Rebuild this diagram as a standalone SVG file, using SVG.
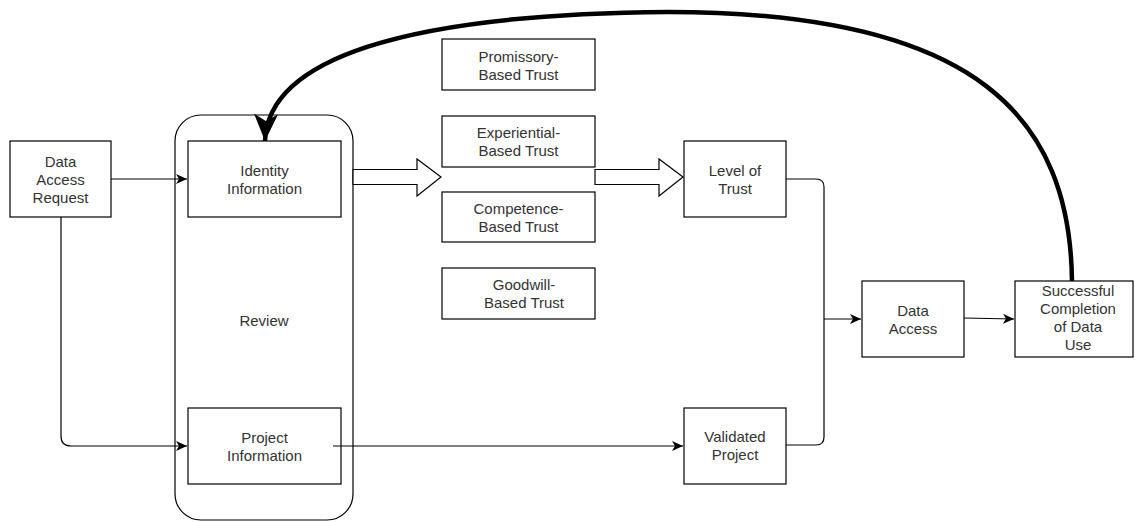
<svg xmlns="http://www.w3.org/2000/svg" width="1135" height="522" viewBox="0 0 1135 522">
<style>
.box{fill:#fff;stroke:#000;stroke-width:1.2}
.t{font-family:"Liberation Sans",Arial,sans-serif;font-size:15px;fill:#333;text-anchor:middle}
.c{fill:none;stroke:#000;stroke-width:1.2}
.hollow{fill:#fff;stroke:#000;stroke-width:1.2;stroke-linejoin:miter}
</style>
<defs>
<marker id="arr" markerUnits="userSpaceOnUse" markerWidth="12" markerHeight="10" refX="11" refY="5" orient="auto">
<path d="M0,0 L11,5 L0,10 L3,5 z" fill="#000"/>
</marker>
<marker id="big" markerUnits="userSpaceOnUse" markerWidth="30" markerHeight="26" refX="27" refY="12" orient="auto">
<path d="M0,0 L27,12 L0,24 L7,12 z" fill="#000"/>
</marker>
</defs>
<g id="review">
<rect class="box" x="175" y="115" width="178" height="405" rx="26" ry="26"/>
<text class="t" x="264" y="326">Review</text>
</g>
<g id="data-access-request">
<rect class="box" x="10" y="141" width="101" height="76"/>
<text class="t" x="60.5" y="167">Data</text>
<text class="t" x="60.5" y="185">Access</text>
<text class="t" x="60.5" y="203">Request</text>
</g>
<g id="identity-information">
<rect class="box" x="188" y="141" width="153" height="76"/>
<text class="t" x="264.5" y="176">Identity</text>
<text class="t" x="264.5" y="194">Information</text>
</g>
<g id="project-information">
<rect class="box" x="188" y="408" width="153" height="76"/>
<text class="t" x="264.5" y="443">Project</text>
<text class="t" x="264.5" y="461">Information</text>
</g>
<g id="promissory">
<rect class="box" x="442" y="39" width="153" height="51"/>
<text class="t" x="518.5" y="62">Promissory-</text>
<text class="t" x="518.5" y="80">Based Trust</text>
</g>
<g id="experiential">
<rect class="box" x="442" y="116" width="153" height="51"/>
<text class="t" x="518.5" y="138">Experiential-</text>
<text class="t" x="518.5" y="156">Based Trust</text>
</g>
<g id="competence">
<rect class="box" x="442" y="192" width="153" height="50"/>
<text class="t" x="518.5" y="214">Competence-</text>
<text class="t" x="518.5" y="232">Based Trust</text>
</g>
<g id="goodwill">
<rect class="box" x="442" y="268" width="153" height="51"/>
<text class="t" x="524" y="290">Goodwill-</text>
<text class="t" x="524" y="308">Based Trust</text>
</g>
<g id="level-of-trust">
<rect class="box" x="684" y="141" width="102" height="76"/>
<text class="t" x="735" y="176">Level of</text>
<text class="t" x="735" y="194">Trust</text>
</g>
<g id="validated-project">
<rect class="box" x="684" y="408" width="102" height="76"/>
<text class="t" x="735" y="442">Validated</text>
<text class="t" x="735" y="460">Project</text>
</g>
<g id="data-access">
<rect class="box" x="862" y="281" width="102" height="76"/>
<text class="t" x="913" y="316">Data</text>
<text class="t" x="913" y="334">Access</text>
</g>
<g id="successful-completion">
<rect class="box" x="1015" y="281" width="118" height="76"/>
<text class="t" x="1078" y="296">Successful</text>
<text class="t" x="1078" y="314">Completion</text>
<text class="t" x="1078" y="332">of Data</text>
<text class="t" x="1078" y="350">Use</text>
</g>
<g id="connectors">
<path class="c" d="M111,179 L187,179" marker-end="url(#arr)"/>
<path class="c" d="M61,217 L61,436 Q61,446 71,446 L187,446" marker-end="url(#arr)"/>
<path class="c" d="M333,446 L683,446" marker-end="url(#arr)"/>
<path class="c" d="M786,179 L816,179 Q824,179 824,187 L824,437 Q824,445 816,445 L786,445"/>
<path class="c" d="M824,319 L861,319" marker-end="url(#arr)"/>
<path class="c" d="M964,318 L1014,319" marker-end="url(#arr)"/>
<polygon class="hollow" points="353,169.5 417,169.5 417,159 441,177 417,196 417,184.5 353,184.5"/>
<polygon class="hollow" points="595,169.5 659,169.5 659,159 683,177 659,196 659,184.5 595,184.5"/>
<path d="M1072,281 C1070,120 980,12 668,12 C400,14 268,60 265,141" fill="none" stroke="#000" stroke-width="4.5" marker-end="url(#big)"/>
</g>
</svg>
